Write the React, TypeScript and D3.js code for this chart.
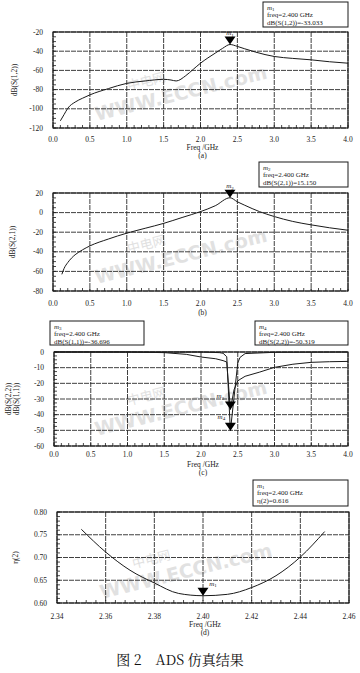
import React from 'react';
import * as d3 from 'd3';

// ---------- data ----------
const freqA = [0.1, 0.15, 0.2, 0.3, 0.4, 0.5, 0.75, 1.0, 1.25, 1.5, 1.6, 1.67, 1.8, 1.9, 2.0, 2.1, 2.2, 2.3, 2.4, 2.5, 2.6, 2.75, 3.0, 3.25, 3.5, 3.75, 4.0];
const s12dB = [-112.5, -106, -99.5, -93, -89, -85.5, -79, -73.5, -71, -69.3, -70, -71, -65.5, -59, -52.5, -47, -42, -37, -33.033, -35, -37.5, -41, -45.5, -47.5, -49, -51, -52.5];

const freqB = [0.12, 0.15, 0.2, 0.25, 0.3, 0.4, 0.5, 0.75, 1.0, 1.25, 1.5, 1.75, 2.0, 2.2, 2.4, 2.5, 2.6, 2.8, 3.0, 3.25, 3.5, 3.75, 4.0];
const s21dB = [-63, -57, -51, -46.5, -43, -38, -34, -27, -21, -16, -11, -5, 1, 7, 15.15, 11, 7.5, 1, -4, -9, -12.5, -15.5, -18];

const freqC11 = [0.0, 1.0, 1.5, 1.8, 2.0, 2.2, 2.3, 2.35, 2.4, 2.45, 2.5, 2.53, 2.6, 2.8, 3.0, 3.25, 3.5, 3.75, 4.0];
const s11dB = [0, 0, -0.4, -1.5, -3.2, -4.3, -5.5, -6.4, -36.696, -24, -18.5, -17.5, -15.5, -12.8, -9.8, -7.8, -6.6, -6.2, -6];
const freqC22 = [0.0, 1.5, 2.0, 2.25, 2.3, 2.35, 2.4, 2.5, 2.53, 2.6, 3.0, 4.0];
const s22dB = [0, 0, 0, -0.4, -0.8, -3, -50.319, -7, -3.5, -1, -0.2, 0];

const freqD = [2.35, 2.36, 2.37, 2.38, 2.39, 2.40, 2.41, 2.42, 2.43, 2.44, 2.45];
const effD = [0.762, 0.712, 0.672, 0.644, 0.621, 0.616, 0.619, 0.634, 0.66, 0.701, 0.757];

const xTicksABC = [0, 0.5, 1.0, 1.5, 2.0, 2.5, 3.0, 3.5, 4.0];
const yTicksA = [-20, -40, -60, -80, -100, -120];
const yTicksB = [20, 0, -20, -40, -60, -80];
const yTicksC = [0, -10, -20, -30, -40, -50, -60];
const xTicksD = [2.34, 2.36, 2.38, 2.40, 2.42, 2.44, 2.46];
const yTicksD = [0.80, 0.75, 0.70, 0.65, 0.60];

const FONT = '"Liberation Serif", "DejaVu Serif", serif';
const INK = '#1a1a1a';

type Series = { x: number[]; y: number[]; curve?: any };
type Box = { x: number; y: number; w: number; h: number; lines: React.ReactNode[] };

function MarkerName({ sub }: { sub: string }) {
  return (
    <>
      <tspan fontStyle="italic">m</tspan>
      <tspan fontSize={5} dy={1.5}>{sub}</tspan>
    </>
  );
}

function Panel(props: {
  xDomain: [number, number];
  xRange: [number, number];
  yDomain: [number, number];
  yRange: [number, number];
  xTicks: number[];
  yTicks: number[];
  xFmt: (v: number) => string;
  yFmt: (v: number) => string;
  xMinor: number;
  yMinor: number;
  tickY: number;
  yLabelX: number;
  yLabels: string[];
  series: Series[];
  markers: { sub: string; fx: number; fy: number; lx: number; ly: number }[];
  boxes: Box[];
  bottom: string[];
  bottomY: number[];
  wm: { x: number; y: number };
}) {
  const p = props;
  const x = d3.scaleLinear().domain(p.xDomain).range(p.xRange);
  const y = d3.scaleLinear().domain(p.yDomain).range(p.yRange);
  const [x0, x1] = p.xRange;
  const [yb, yt] = p.yRange;
  const xMinorTicks = d3.range(p.xDomain[0], p.xDomain[1] + 1e-9, p.xMinor);
  const yMinorTicks = d3.range(Math.min(...p.yDomain), Math.max(...p.yDomain) + 1e-9, p.yMinor);
  const midY = (yb + yt) / 2;
  return (
    <g>
      {/* watermark */}
      <g transform={`translate(${p.wm.x},${p.wm.y}) rotate(-14)`} fill="#c4c4c4" opacity={0.5} fontWeight="bold">
        <text x={-50} y={-12} fontSize={13} fontFamily='"Noto Sans CJK SC", sans-serif' fontWeight="normal">中电网</text>
        <text x={0} y={10} fontSize={19} textAnchor="middle" fontFamily='"DejaVu Sans", sans-serif'>WWW.ECCN.com</text>
      </g>
      {/* grid */}
      {p.xTicks.map((t, i) => (
        <line key={'gx' + i} x1={x(t)} x2={x(t)} y1={yt} y2={yb} stroke="#2a2a2a" strokeWidth={0.9} strokeDasharray="5 1" />
      ))}
      {p.yTicks.map((t, i) => (
        <line key={'gy' + i} x1={x0} x2={x1} y1={y(t)} y2={y(t)} stroke="#2a2a2a" strokeWidth={0.9} strokeDasharray="5 1" />
      ))}
      <rect x={x0} y={yt} width={x1 - x0} height={yb - yt} fill="none" stroke={INK} strokeWidth={1.1} />
      {/* minor ticks */}
      {xMinorTicks.map((t, i) => (
        <line key={'mx' + i} x1={x(t)} x2={x(t)} y1={yb} y2={yb - 3} stroke={INK} strokeWidth={0.8} />
      ))}
      {yMinorTicks.map((t, i) => (
        <line key={'my' + i} x1={x0} x2={x0 + 3} y1={y(t)} y2={y(t)} stroke={INK} strokeWidth={0.8} />
      ))}
      {/* tick labels */}
      {p.xTicks.map((t, i) => (
        <text key={'tx' + i} x={x(t)} y={p.tickY} textAnchor="middle" fontSize={7.5} fill={INK}>{p.xFmt(t)}</text>
      ))}
      {p.yTicks.map((t, i) => (
        <text key={'ty' + i} x={x0 - 10} y={y(t) + 2.5} textAnchor="end" fontSize={7.5} fill={INK}>{p.yFmt(t)}</text>
      ))}
      {/* y label */}
      {p.yLabels.map((l, i) => (
        <text key={'yl' + i} transform={`translate(${p.yLabelX + i * 8},${midY}) rotate(-90)`} textAnchor="middle" fontSize={7.5} fill={INK}>{l}</text>
      ))}
      {/* bottom labels */}
      {p.bottom.map((l, i) => (
        <text key={'bl' + i} x={(x0 + x1) / 2 + 2} y={p.bottomY[i]} textAnchor="middle" fontSize={7.5} fill={INK}>{l}</text>
      ))}
      {/* series */}
      {p.series.map((s, i) => {
        const line = d3.line<number>().x((_, k) => x(s.x[k])).y((v) => y(v)).curve(s.curve || d3.curveMonotoneX);
        return <path key={'s' + i} d={line(s.y) || ''} fill="none" stroke={INK} strokeWidth={1} />;
      })}
      {/* markers */}
      {p.markers.map((m, i) => {
        const px = x(m.fx);
        const py = y(m.fy);
        return (
          <g key={'m' + i}>
            <path d={`M${px},${py} L${px - 5.5},${py - 8} L${px + 5.5},${py - 8} Z`} fill="#000" />
            <text x={px + m.lx} y={py + m.ly} fontSize={7} fill={INK} textAnchor="middle">
              <MarkerName sub={m.sub} />
            </text>
          </g>
        );
      })}
      {/* boxes */}
      {p.boxes.map((b, i) => (
        <g key={'b' + i}>
          <rect x={b.x} y={b.y} width={b.w} height={b.h} fill="#fff" stroke={INK} strokeWidth={1} />
          {b.lines.map((l, k) => (
            <text key={k} x={b.x + 4} y={b.y + 7.5 + k * 7.7} fontSize={7} fill={INK}>{l}</text>
          ))}
        </g>
      ))}
    </g>
  );
}

const f1 = d3.format('.1f');
const f2 = d3.format('.2f');
const fInt = (v: number) => String(v);

export default function App() {
  return (
    <svg width={360} height={673} style={{ display: 'block', position: 'absolute', left: 0, top: 0, background: '#fff', fontFamily: FONT }} fontFamily={FONT}>
      <rect x={0} y={0} width={360} height={673} fill="#fff" />
      {/* (a) */}
      <Panel
        xDomain={[0, 4]} xRange={[53, 348]} yDomain={[-120, -20]} yRange={[128, 32]}
        xTicks={xTicksABC} yTicks={yTicksA} xFmt={f1} yFmt={fInt} xMinor={0.1} yMinor={5}
        tickY={142} yLabelX={17} yLabels={['dB(S(1,2))']}
        series={[{ x: freqA, y: s12dB }]}
        markers={[{ sub: '1', fx: 2.4, fy: -33.033, lx: 0, ly: -9.5 }]}
        boxes={[{ x: 263, y: 2, w: 85, h: 25, lines: [<MarkerName sub="1" />, 'freq=2.400 GHz', 'dB(S(1,2))=-33.033'] }]}
        bottom={['Freq /GHz', '(a)']} bottomY={[150, 158]}
        wm={{ x: 180, y: 90 }}
      />
      {/* (b) */}
      <Panel
        xDomain={[0, 4]} xRange={[53, 348]} yDomain={[-80, 20]} yRange={[291, 193]}
        xTicks={xTicksABC} yTicks={yTicksB} xFmt={f1} yFmt={fInt} xMinor={0.1} yMinor={5}
        tickY={306} yLabelX={15} yLabels={['dB(S(2,1))']}
        series={[{ x: freqB, y: s21dB }]}
        markers={[{ sub: '2', fx: 2.4, fy: 15.15, lx: 0, ly: -9.5 }]}
        boxes={[{ x: 259, y: 162, w: 89, h: 25, lines: [<MarkerName sub="2" />, 'freq=2.400 GHz', 'dB(S(2,1))=15.150'] }]}
        bottom={['(b)']} bottomY={[315]}
        wm={{ x: 180, y: 253 }}
      />
      {/* (c) */}
      <Panel
        xDomain={[0, 4]} xRange={[54, 348]} yDomain={[-60, 0]} yRange={[446, 352]}
        xTicks={xTicksABC} yTicks={yTicksC} xFmt={f1} yFmt={fInt} xMinor={0.1} yMinor={2.5}
        tickY={457} yLabelX={11} yLabels={['dB(S(2,2))', 'dB(S(1,1))']}
        series={[{ x: freqC11, y: s11dB, curve: d3.curveLinear }, { x: freqC22, y: s22dB, curve: d3.curveLinear }]}
        markers={[
          { sub: '3', fx: 2.4, fy: -36.696, lx: -10, ly: -11 },
          { sub: '4', fx: 2.4, fy: -50.319, lx: -9, ly: -12 },
        ]}
        boxes={[
          { x: 50, y: 321, w: 94, h: 24, lines: [<MarkerName sub="3" />, 'freq=2.400 GHz', 'dB(S(1,1))=-36.696'] },
          { x: 255, y: 321, w: 93, h: 24, lines: [<MarkerName sub="4" />, 'freq=2.400 GHz', 'dB(S(2,2))=-50.319'] },
        ]}
        bottom={['Freq /GHz', '(c)']} bottomY={[467, 475]}
        wm={{ x: 180, y: 405 }}
      />
      {/* (d) */}
      <Panel
        xDomain={[2.34, 2.46]} xRange={[57, 349]} yDomain={[0.6, 0.8]} yRange={[603, 512]}
        xTicks={xTicksD} yTicks={yTicksD} xFmt={f2} yFmt={f2} xMinor={0.004} yMinor={0.01}
        tickY={619} yLabelX={18} yLabels={['η(2)']}
        series={[{ x: freqD, y: effD }]}
        markers={[{ sub: '1', fx: 2.4, fy: 0.616, lx: 10, ly: -10 }]}
        boxes={[{ x: 253, y: 480, w: 95, h: 26, lines: [<MarkerName sub="1" />, 'freq=2.400 GHz', 'η(2)=0.616'] }]}
        bottom={['Freq /GHz', '(d)']} bottomY={[627, 635]}
        wm={{ x: 185, y: 568 }}
      />
      <text x={180} y={665} textAnchor="middle" fontSize={14} fill="#111" fontFamily='"Noto Serif CJK SC", "Noto Sans CJK SC", serif'>图 2　ADS 仿真结果</text>
    </svg>
  );
}
